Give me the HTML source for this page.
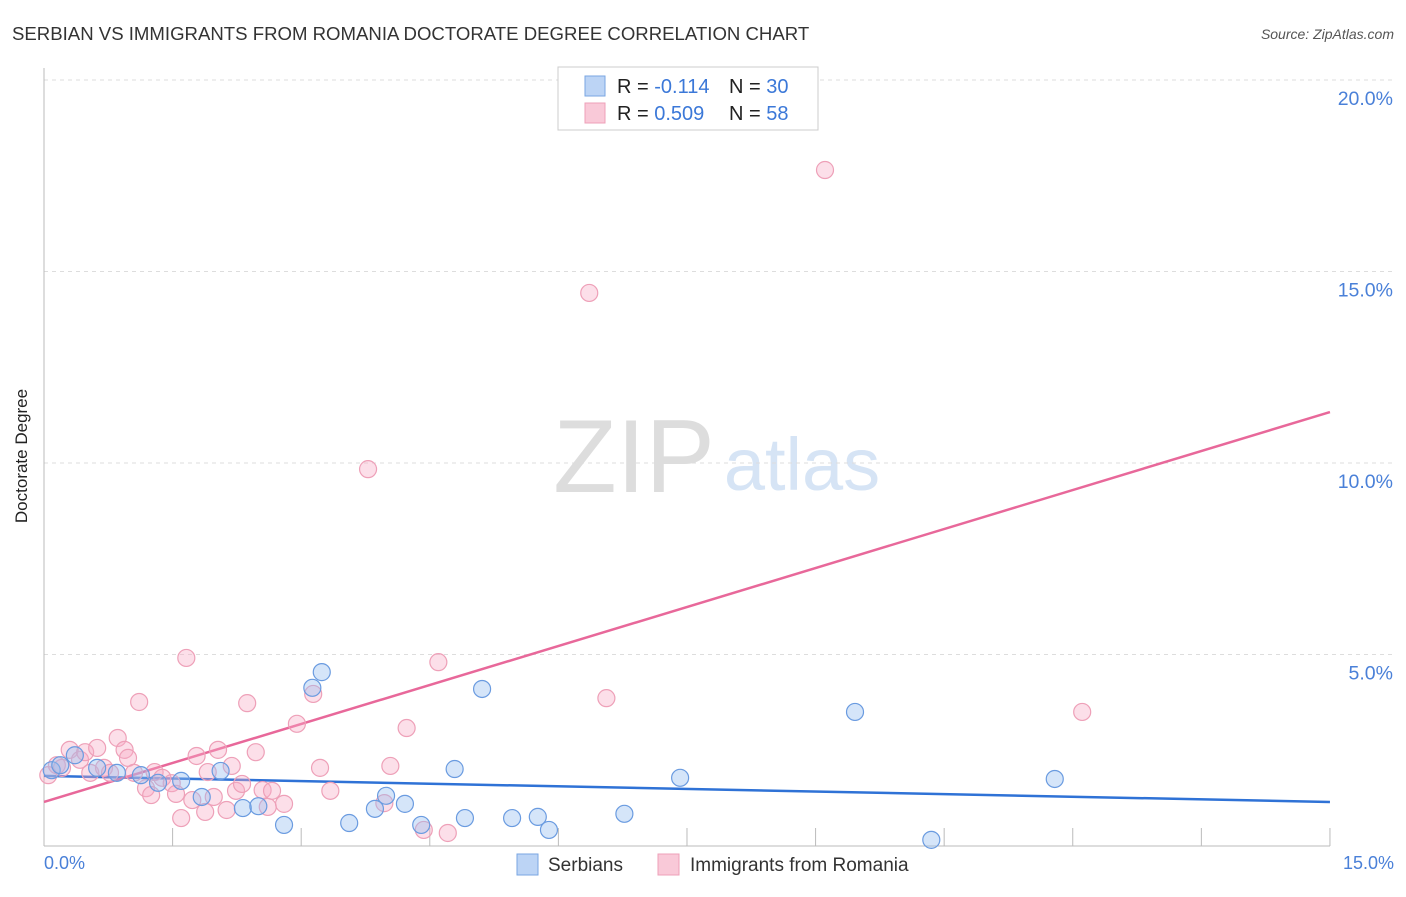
<!DOCTYPE html>
<html><head><meta charset="utf-8"><style>
body{margin:0;background:#fff;font-family:"Liberation Sans",sans-serif;}
svg text{font-family:"Liberation Sans",sans-serif;}
</style></head><body>
<svg width="1406" height="892">
<text x="12" y="40" font-size="18.6" fill="#333">SERBIAN VS IMMIGRANTS FROM ROMANIA DOCTORATE DEGREE CORRELATION CHART</text>
<text x="1394" y="39" font-size="14" fill="#555" font-style="italic" text-anchor="end">Source: ZipAtlas.com</text>
<g>
<text x="634" y="492" font-size="104" fill="#ddd" font-family="Liberation Serif" text-anchor="middle">ZIP</text>
<text x="802" y="490" font-size="74" fill="#d6e4f5" text-anchor="middle">atlas</text>
</g>
<g id="grid"></g>
<line x1="44" y1="68" x2="44" y2="846" stroke="#bbb"/>
<line x1="44" y1="846" x2="1330" y2="846" stroke="#bbb"/>
<g id="xticks"></g>
<text x="27" y="456" font-size="17" fill="#222" text-anchor="middle" transform="rotate(-90 27 456)">Doctorate Degree</text>
<text x="44" y="869" font-size="18" fill="#4a80d8">0.0%</text>
<text x="1394" y="869" font-size="18" fill="#4a80d8" text-anchor="end">15.0%</text>
<g id="lines"></g>
<g id="pts"></g>
<g>
<rect x="558" y="67" width="260" height="63" fill="#fff" stroke="#ccc"/>
<rect x="585" y="76" width="20" height="20" fill="#bcd4f5" stroke="#7aa6e2"/>
<rect x="585" y="103" width="20" height="20" fill="#f9c9d8" stroke="#eea0b8"/>
<text x="617" y="93" font-size="20" fill="#222">R = <tspan fill="#3b78d8">-0.114</tspan></text>
<text x="729" y="93" font-size="20" fill="#222">N = <tspan fill="#3b78d8">30</tspan></text>
<text x="617" y="120" font-size="20" fill="#222">R = <tspan fill="#3b78d8">0.509</tspan></text>
<text x="729" y="120" font-size="20" fill="#222">N = <tspan fill="#3b78d8">58</tspan></text>
</g>
<g>
<rect x="517" y="854" width="21" height="21" fill="#bcd4f5" stroke="#7aa6e2"/>
<text x="548" y="871" font-size="19" fill="#333">Serbians</text>
<rect x="658" y="854" width="21" height="21" fill="#f9c9d8" stroke="#eea0b8"/>
<text x="690" y="871" font-size="19" fill="#333">Immigrants from Romania</text>
</g>
</svg>
<script>
const yTicks=[5,10,15,20];
const yTickLabels=["5.0%","10.0%","15.0%","20.0%"];
const xTicks=[0,1.5,3,4.5,6,7.5,9,10.5,12,13.5,15];
const serbX=[.09,.19,.36,.62,.85,1.13,1.33,1.60,1.84,2.06,2.32,2.50,2.80,3.13,3.24,3.56,3.86,3.99,4.21,4.40,4.79,4.91,5.11,5.46,5.76,5.89,6.77,7.42,9.46,10.35,11.79];
const serbY=[1.98,2.11,2.37,2.04,1.91,1.85,1.65,1.70,1.28,1.96,0.99,1.04,0.55,4.13,4.54,0.60,0.97,1.31,1.10,0.55,2.01,0.73,4.10,0.73,0.76,0.42,0.84,1.78,3.50,0.16,1.75];
const romX=[.05,.15,.21,.30,.42,.48,.62,.54,.70,.77,.86,.94,.98,1.11,1.05,1.19,1.25,1.29,1.38,1.49,1.54,1.60,1.66,1.73,1.78,1.88,1.91,1.98,2.03,2.13,2.19,2.24,2.31,2.37,2.47,2.55,2.61,2.66,2.80,2.95,3.14,3.22,3.34,3.78,3.97,4.04,4.23,4.43,4.60,4.71,6.36,6.56,9.11,12.11];
const romY=[1.85,2.11,2.04,2.51,2.25,2.45,2.56,1.91,2.04,1.91,2.82,2.51,2.30,3.76,1.91,1.51,1.33,1.93,1.78,1.64,1.36,0.73,4.91,1.20,2.35,0.89,1.93,1.28,2.51,0.94,2.09,1.44,1.62,3.73,2.45,1.46,1.02,1.44,1.10,3.19,3.97,2.04,1.44,9.84,1.12,2.09,3.08,0.42,4.80,0.34,14.44,3.86,17.65,3.50];
const serbTrend=[1.83,1.15];
const romTrend=[1.15,11.33];
const X=v=>44+v*85.73, Y=v=>846-v*38.3;
const NS="http://www.w3.org/2000/svg";
function mk(t,a,p){const e=document.createElementNS(NS,t);for(const k in a)e.setAttribute(k,a[k]);p.appendChild(e);return e;}
const grid=document.getElementById('grid');
yTicks.forEach((t,i)=>{
 const l=mk('line',{x1:44,x2:1394,y1:Y(t),y2:Y(t),stroke:'#ddd','stroke-dasharray':'4,4'},grid);
 
 
 const tx=mk('text',{x:1393,y:Y(t)+25,'font-size':19.5,fill:'#4a80d8','text-anchor':'end'},grid);
 tx.textContent=yTickLabels[i];
 
 
});
const xt=document.getElementById('xticks');
xTicks.forEach(t=>{
 const l=mk('line',{x1:X(t),x2:X(t),y1:828,y2:846,stroke:'#bbb'},xt);
 
 
});
const pts=document.getElementById('pts');
romX.forEach((x,i)=>{
 const c=mk('circle',{cx:X(x),cy:Y(romY[i]),r:8.5,fill:'rgba(246,172,198,0.38)',stroke:'#eea0b8','stroke-width':1.2},pts);
 
 
});
serbX.forEach((x,i)=>{
 const c=mk('circle',{cx:X(x),cy:Y(serbY[i]),r:8.5,fill:'rgba(150,190,240,0.4)',stroke:'#6a9be0','stroke-width':1.2},pts);
 
 
});
const lines=document.getElementById('lines');
const l1=mk('line',{x1:X(0),y1:Y(serbTrend[0]),x2:X(15),y2:Y(serbTrend[1]),stroke:'#2f72d6','stroke-width':2.5},lines);


const l2=mk('line',{x1:X(0),y1:Y(romTrend[0]),x2:X(15),y2:Y(romTrend[1]),stroke:'#e8689a','stroke-width':2.5},lines);


</script>
</body></html>
